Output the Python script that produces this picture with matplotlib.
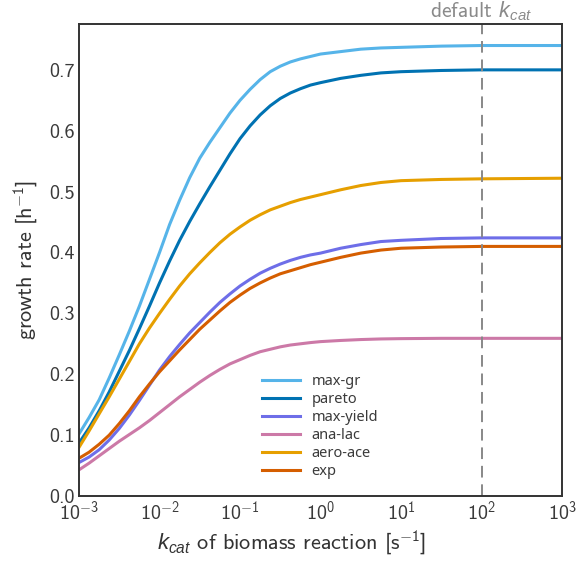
import matplotlib
matplotlib.use("Agg")
import matplotlib.pyplot as plt
from matplotlib.ticker import FuncFormatter
import numpy as np

# kcat of the biomass reaction [1/s]
kcat = [0.001, 0.001334, 0.001778, 0.002371, 0.003162, 0.004217, 0.005623,
        0.007499, 0.01, 0.01334, 0.01778, 0.02371, 0.03162, 0.04217, 0.05623,
        0.07499, 0.1, 0.1334, 0.1778, 0.2371, 0.3162, 0.4217, 0.5623, 0.7499,
        1.0, 1.778, 3.162, 5.623, 10.0, 31.62, 100.0, 1000.0]

# growth rate [1/h] per strategy
max_gr = [0.102, 0.129, 0.158, 0.194, 0.232, 0.271, 0.312, 0.356, 0.400,
          0.446, 0.486, 0.523, 0.555, 0.581, 0.605, 0.629, 0.650, 0.668,
          0.684, 0.697, 0.706, 0.713, 0.718, 0.722, 0.726, 0.730, 0.734,
          0.736, 0.737, 0.739, 0.740, 0.740]
pareto = [0.087, 0.112, 0.140, 0.171, 0.205, 0.239, 0.275, 0.312, 0.350,
          0.386, 0.420, 0.451, 0.480, 0.508, 0.535, 0.562, 0.587, 0.608,
          0.626, 0.641, 0.653, 0.662, 0.669, 0.675, 0.679, 0.686, 0.691,
          0.695, 0.697, 0.699, 0.700, 0.700]
max_yield = [0.055, 0.064, 0.076, 0.092, 0.111, 0.133, 0.157, 0.182, 0.207,
             0.229, 0.249, 0.268, 0.285, 0.302, 0.318, 0.332, 0.345, 0.356,
             0.366, 0.374, 0.381, 0.387, 0.392, 0.396, 0.399, 0.407, 0.413,
             0.418, 0.420, 0.423, 0.424, 0.424]
ana_lac = [0.043, 0.054, 0.066, 0.078, 0.090, 0.101, 0.112, 0.124, 0.137,
           0.150, 0.163, 0.175, 0.187, 0.198, 0.208, 0.217, 0.224, 0.231,
           0.237, 0.241, 0.245, 0.248, 0.250, 0.252, 0.2536, 0.2555, 0.257,
           0.258, 0.2585, 0.259, 0.259, 0.259]
aero_ace = [0.080, 0.107, 0.135, 0.163, 0.192, 0.221, 0.250, 0.276, 0.300,
            0.323, 0.345, 0.365, 0.383, 0.400, 0.416, 0.430, 0.442, 0.453,
            0.462, 0.470, 0.476, 0.482, 0.487, 0.491, 0.495, 0.503, 0.510,
            0.515, 0.518, 0.520, 0.521, 0.522]
exp = [0.062, 0.072, 0.085, 0.100, 0.119, 0.140, 0.163, 0.184, 0.204,
       0.222, 0.240, 0.257, 0.274, 0.289, 0.304, 0.318, 0.330, 0.341,
       0.350, 0.358, 0.365, 0.370, 0.375, 0.380, 0.384, 0.392, 0.399,
       0.404, 0.407, 0.409, 0.410, 0.410]

labels = ["max-gr", "pareto", "max-yield", "ana-lac", "aero-ace", "exp"]
colors = ["#56B4E9", "#0072B2", "#6e6ee8", "#CC79A7", "#E69F00", "#D55E00"]
default_kcat = 100.0

plt.rcParams["font.family"] = "cmss10"
plt.rcParams["mathtext.fontset"] = "custom"
plt.rcParams["mathtext.rm"] = "cmss10"
plt.rcParams["mathtext.it"] = "Liberation Sans:italic"
plt.rcParams["axes.formatter.use_mathtext"] = True
plt.rcParams["axes.unicode_minus"] = False

fig = plt.figure(figsize=(5.77, 5.63), dpi=100)
ax = fig.add_axes([0.137, 0.119, 0.837, 0.838])

series = [max_gr, pareto, max_yield, ana_lac, aero_ace, exp]
for vals, lab, col in zip(series, labels, colors):
    ax.plot(kcat, vals, color=col, lw=2.2, label=lab)

ax.axvline(default_kcat, color="#888888", lw=1.4, ls=(0, (6, 3.5)))
ax.text(default_kcat, 0.7857, "default $k_{cat}$", color="#8a8a8a",
        fontsize=15.5, ha="center", va="baseline")

ax.set_xscale("log")
ax.set_xlim(1e-3, 1e3)
ax.xaxis.set_major_formatter(
    FuncFormatter(lambda v, _: "$10^{%d}$" % int(round(np.log10(v)))))
ax.set_ylim(0, 0.775)
ax.set_yticks([0.0, 0.1, 0.2, 0.3, 0.4, 0.5, 0.6, 0.7])
ax.set_yticklabels(["0.0", "0.1", "0.2", "0.3", "0.4", "0.5", "0.6", "0.7"])
ax.tick_params(axis="both", which="both", length=0, labelsize=14.5,
               labelcolor="#3a3a3a", pad=3)
for sp in ax.spines.values():
    sp.set_color("#333333")
    sp.set_linewidth(1.4)

ax.set_xlabel("$k_{cat}$ of biomass reaction [s$^{-1}$]", fontsize=16,
              color="#333333")
ax.xaxis.set_label_coords(0.439, -0.068)
ax.set_ylabel("growth rate [h$^{-1}$]", fontsize=16, color="#333333",
              labelpad=7)

leg = ax.legend(loc="lower left", bbox_to_anchor=(0.379, 0.036), frameon=False,
                borderpad=0, borderaxespad=0, labelspacing=0.2,
                handlelength=2.6, handletextpad=0.8,
                prop={"family": "Noto Sans", "size": 10.5})
for t in leg.get_texts():
    t.set_color("#3a3a3a")

fig.savefig("out.png", dpi=100)
